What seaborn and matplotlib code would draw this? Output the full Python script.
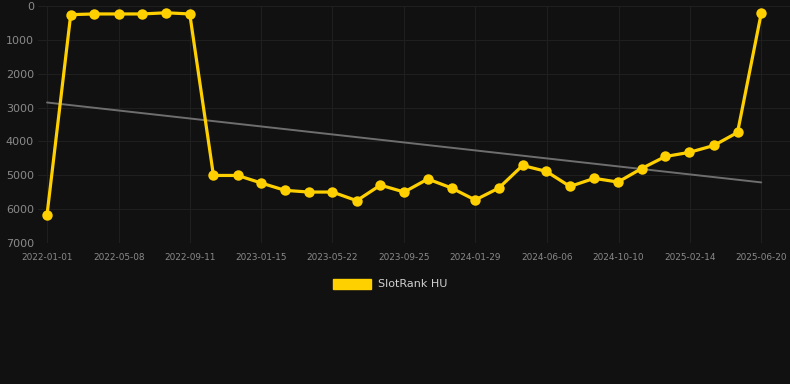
import matplotlib
matplotlib.use("Agg")
import matplotlib.pyplot as plt
import matplotlib.dates as mdates
from matplotlib.patches import Patch
import seaborn as sns
import pandas as pd
import numpy as np

dates = ["2022-01-01", "2022-02-12", "2022-03-26", "2022-05-08", "2022-06-19",
         "2022-07-31", "2022-09-11", "2022-10-23", "2022-12-05", "2023-01-16",
         "2023-02-27", "2023-04-10", "2023-05-22", "2023-07-04", "2023-08-15",
         "2023-09-26", "2023-11-07", "2023-12-19", "2024-01-30", "2024-03-12",
         "2024-04-23", "2024-06-04", "2024-07-16", "2024-08-28", "2024-10-09",
         "2024-11-20", "2025-01-01", "2025-02-12", "2025-03-28", "2025-05-09",
         "2025-06-20"]
ranks = [6165, 255, 235, 235, 235, 200, 235, 5005, 5005, 5230,
         5445, 5495, 5495, 5750, 5290, 5495, 5110, 5375, 5730, 5375,
         4710, 4885, 5330, 5090, 5200, 4800, 4445, 4325, 4120, 3735,
         215]
trend_dates = ["2022-01-01", "2025-06-20"]
trend_values = [2850, 5210]
tick_labels = ["2022-01-01", "2022-05-08", "2022-09-11", "2023-01-15", "2023-05-22",
               "2023-09-25", "2024-01-29", "2024-06-06", "2024-10-10", "2025-02-14",
               "2025-06-20"]
y_ticks = [0, 1000, 2000, 3000, 4000, 5000, 6000, 7000]
series_name = "SlotRank HU"

BG = "#111111"
GOLD = "#FFD000"
GRID = "#1f1f1f"
sns.set_style("dark", {"axes.facecolor": BG, "figure.facecolor": BG})
plt.rcParams['font.family'] = ['DejaVu Sans']

df = pd.DataFrame({"date": pd.to_datetime(dates), "rank": ranks})
tdf = pd.DataFrame({"date": pd.to_datetime(trend_dates), "rank": trend_values})

fig = plt.figure(figsize=(7.9, 3.84), dpi=100)
ax = fig.add_axes([38/790, 1-243/384, 752/790, 237/384])
ax.set_facecolor(BG)

sns.lineplot(data=tdf, x="date", y="rank", ax=ax, color="#6e6e6e", linewidth=1.4, zorder=2)
sns.lineplot(data=df, x="date", y="rank", ax=ax, color=GOLD, linewidth=2.3,
             marker="o", markersize=7.5, markeredgewidth=0, zorder=3)

ax.set_ylim(7000, 0)
ax.set_yticks(y_ticks)
ax.set_yticklabels([str(v) for v in y_ticks])
xt = pd.to_datetime(tick_labels)
ax.set_xticks(xt)
ax.set_xticklabels(tick_labels)
x0 = pd.to_datetime(dates[0]) - pd.Timedelta(days=16)
x1 = pd.to_datetime(dates[-1]) + pd.Timedelta(days=51)
ax.set_xlim(x0, x1)

ax.grid(True, color=GRID, linewidth=0.8)
ax.set_axisbelow(True)
for s in ax.spines.values():
    s.set_visible(False)
ax.tick_params(axis="y", colors="#8a8a8a", labelsize=8, length=0, pad=3)
ax.tick_params(axis="x", colors="#8a8a8a", labelsize=6.4, length=5, color=GRID, pad=2)
for lbl in ax.get_yticklabels():
    lbl.set_color("#8a8a8a")
for lbl in ax.get_xticklabels():
    lbl.set_color("#8a8a8a")
ax.set_xlabel("")
ax.set_ylabel("")
if ax.get_legend():
    ax.get_legend().remove()

fig.legend(handles=[Patch(facecolor=GOLD, edgecolor=GOLD, label=series_name)],
           loc="center", bbox_to_anchor=(390/790, 1-284/384), frameon=False,
           handlelength=3.4, handleheight=1.0, handletextpad=0.6,
           fontsize=8, labelcolor="#d0d0d0")

fig.savefig("out.png", dpi=100, facecolor=BG)
